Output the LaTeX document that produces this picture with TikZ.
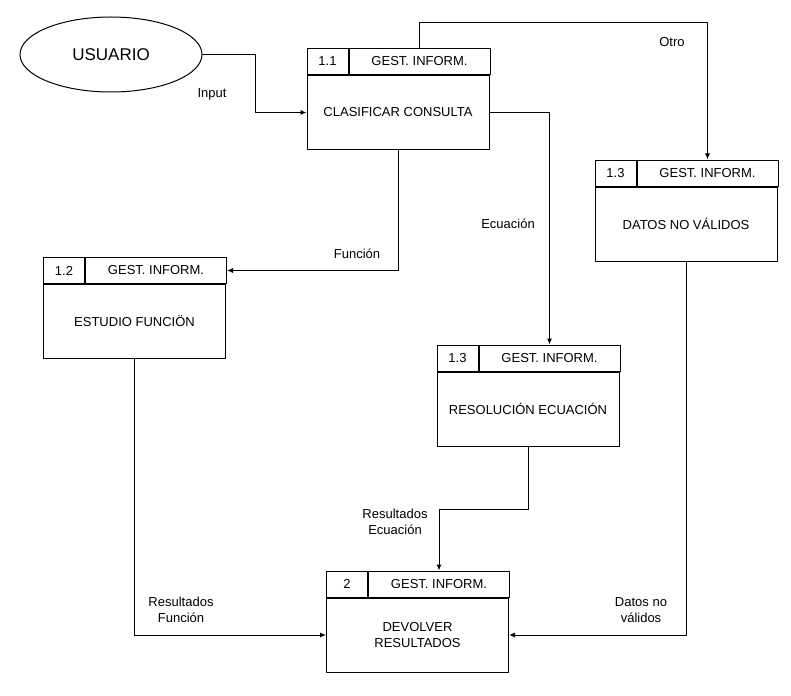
\documentclass[tikz,border=0pt]{standalone}
\usepackage{fontspec}
\setmainfont{Liberation Sans}
\usetikzlibrary{arrows.meta,shapes.geometric}

\begin{document}
\begin{tikzpicture}[x=1pt,y=-1pt,line cap=round,line join=round,
  every node/.style={font=\fontsize{13}{16}\selectfont},
  body/.style={draw,line width=1pt,minimum width=182pt,minimum height=74pt,inner sep=0pt},
  numcell/.style={draw,line width=1pt,minimum width=41pt,minimum height=26pt,inner sep=0pt,anchor=south west},
  titlecell/.style={draw,line width=1pt,minimum width=141pt,minimum height=26pt,inner sep=0pt,anchor=south west},
  flow/.style={line width=1pt,-{Latex[length=6pt,width=5pt]}},
  lbl/.style={align=center,inner sep=0pt}]
  \useasboundingbox (0,0) rectangle (791,695);
  % external entity
  \node[draw,ellipse,line width=1pt,minimum width=182pt,minimum height=75pt,
    font=\fontsize{17}{20}\selectfont] (usuario) at (111,54.5) {USUARIO};
  % processes
  \node[body] (c11) at (398,112.5) {CLASIFICAR CONSULTA};
  \node[numcell] (c11n) at (c11.north west) {1.1};
  \node[titlecell] (c11t) at (c11n.south east) {GEST. INFORM.};
  \node[body] (c13) at (686,224) {DATOS NO VÁLIDOS};
  \node[numcell] (c13n) at (c13.north west) {1.3};
  \node[titlecell] (c13t) at (c13n.south east) {GEST. INFORM.};
  \node[body] (c12) at (134.5,321.5) {ESTUDIO FUNCIÖN};
  \node[numcell] (c12n) at (c12.north west) {1.2};
  \node[titlecell] (c12t) at (c12n.south east) {GEST. INFORM.};
  \node[body] (cres) at (528,409) {RESOLUCIÓN ECUACIÓN};
  \node[numcell] (cresn) at (cres.north west) {1.3};
  \node[titlecell] (crest) at (cresn.south east) {GEST. INFORM.};
  \node[body,align=center] (c2) at (417.5,635) {DEVOLVER\\RESULTADOS};
  \node[numcell] (c2n) at (c2.north west) {2};
  \node[titlecell] (c2t) at (c2n.south east) {GEST. INFORM.};
  % flows
  \draw[flow] (usuario.east) -- ++(53,0) |- (c11.west);
  \draw[flow] (c11t.north) -- ++(0,-25) -| (c13t.north);
  \draw[flow] (c11.east) -| (crest.north);
  \draw[flow] (c11.south) |- (c12t.east);
  \draw[flow] (c12.south) |- (c2.west);
  \draw[flow] (cres.south) -- ++(0,63) -| (c2t.north);
  \draw[flow] (c13.south) |- (c2.east);
  % flow labels
  \node[lbl] (linput) at (212,94) {Input};
  \node[lbl] (lotro) at (672,42) {Otro};
  \node[lbl] (lecua) at (508,224) {Ecuación};
  \node[lbl] (lfunc) at (357,254) {Función};
  \node[lbl] (lresec) at (395,522) {Resultados\\Ecuación};
  \node[lbl] (lresfu) at (181,610) {Resultados\\Función};
  \node[lbl] (ldatos) at (641,610) {Datos no\\válidos};
\end{tikzpicture}
\end{document}
